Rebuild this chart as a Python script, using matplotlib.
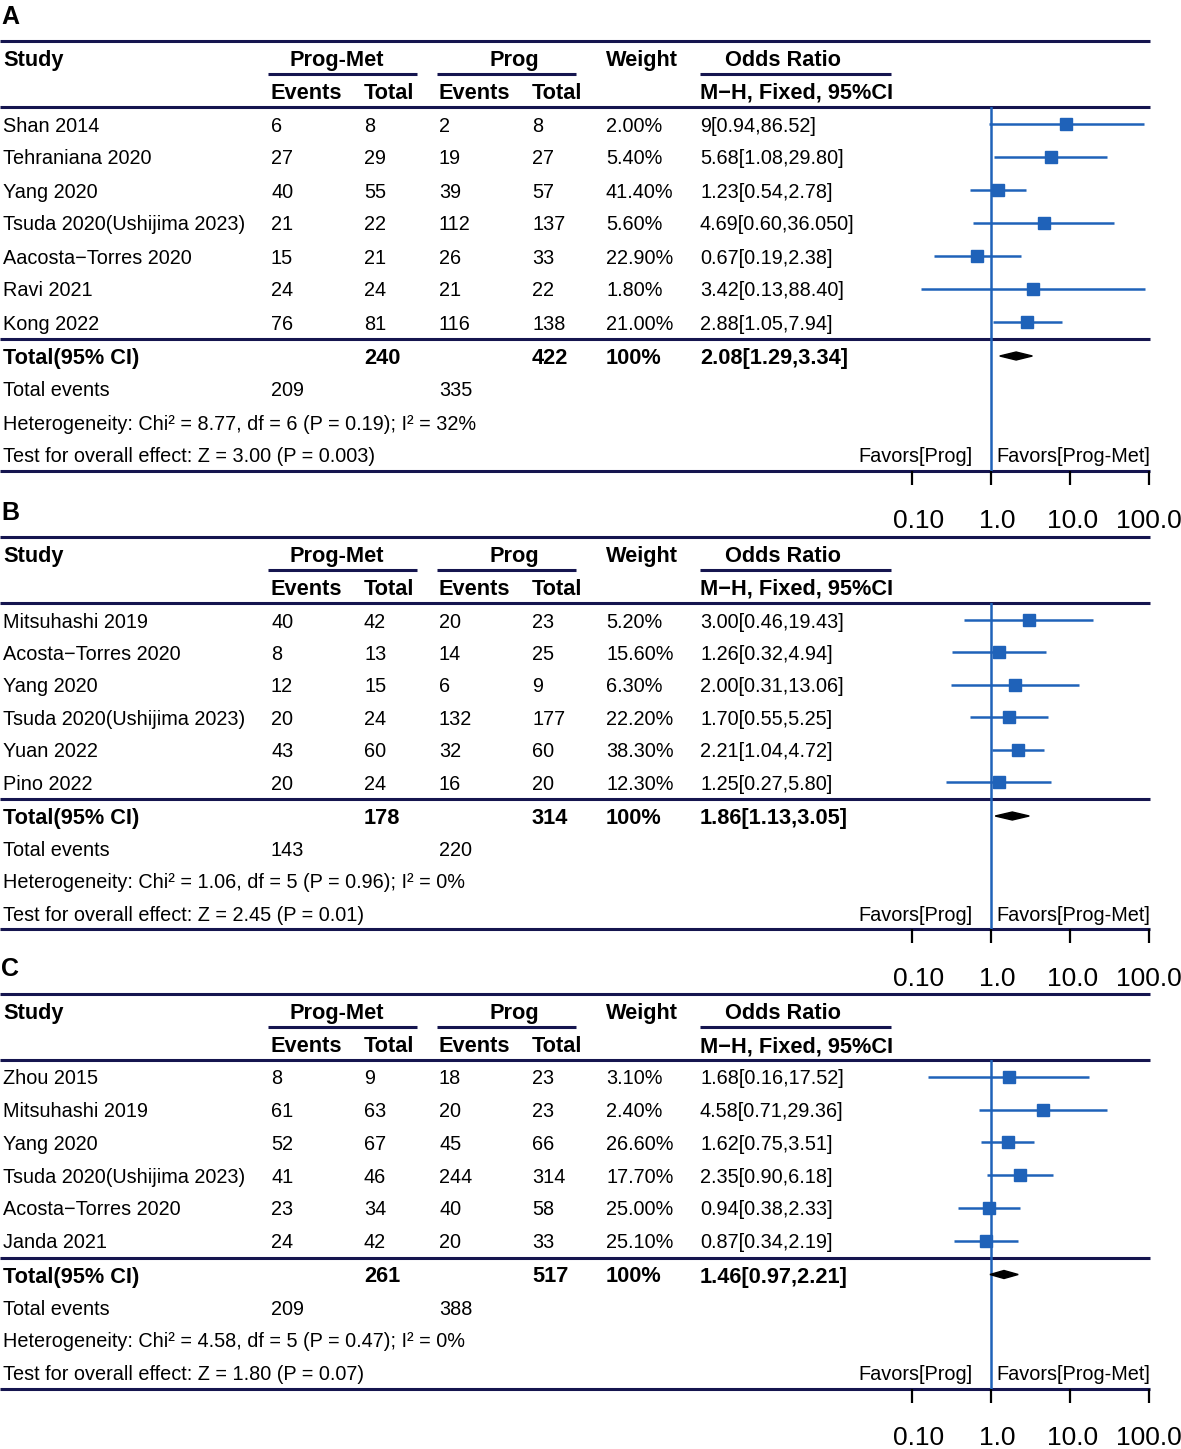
import numpy as np
import matplotlib.pyplot as plt
from matplotlib.transforms import ScaledTranslation

plt.rcParams['font.family'] = ['Liberation Sans', 'DejaVu Sans']

NAVY = '#15154f'
BLUE = '#1f62b9'
W, H = 1181, 1449

# ---- panel A
a_study = ['Shan 2014', 'Tehraniana 2020', 'Yang 2020', 'Tsuda 2020(Ushijima 2023)',
           'Aacosta\u2212Torres 2020', 'Ravi 2021', 'Kong 2022']
a_ev1 = [6, 27, 40, 21, 15, 24, 76]
a_n1 = [8, 29, 55, 22, 21, 24, 81]
a_ev2 = [2, 19, 39, 112, 26, 21, 116]
a_n2 = [8, 27, 57, 137, 33, 22, 138]
a_weight = ['2.00%', '5.40%', '41.40%', '5.60%', '22.90%', '1.80%', '21.00%']
a_or = [9, 5.68, 1.23, 4.69, 0.67, 3.42, 2.88]
a_lo = [0.94, 1.08, 0.54, 0.60, 0.19, 0.13, 1.05]
a_hi = [86.52, 29.80, 2.78, 36.050, 2.38, 88.40, 7.94]
a_ci = ['9[0.94,86.52]', '5.68[1.08,29.80]', '1.23[0.54,2.78]', '4.69[0.60,36.050]',
        '0.67[0.19,2.38]', '3.42[0.13,88.40]', '2.88[1.05,7.94]']
a_total = [240, 422]
a_events = [209, 335]
a_pooled = [2.08, 1.29, 3.34]
a_het = 'Heterogeneity: Chi\u00b2 = 8.77, df = 6 (P = 0.19); I\u00b2 = 32%'
a_test = 'Test for overall effect: Z = 3.00 (P = 0.003)'

# ---- panel B
b_study = ['Mitsuhashi 2019', 'Acosta\u2212Torres 2020', 'Yang 2020',
           'Tsuda 2020(Ushijima 2023)', 'Yuan 2022', 'Pino 2022']
b_ev1 = [40, 8, 12, 20, 43, 20]
b_n1 = [42, 13, 15, 24, 60, 24]
b_ev2 = [20, 14, 6, 132, 32, 16]
b_n2 = [23, 25, 9, 177, 60, 20]
b_weight = ['5.20%', '15.60%', '6.30%', '22.20%', '38.30%', '12.30%']
b_or = [3.00, 1.26, 2.00, 1.70, 2.21, 1.25]
b_lo = [0.46, 0.32, 0.31, 0.55, 1.04, 0.27]
b_hi = [19.43, 4.94, 13.06, 5.25, 4.72, 5.80]
b_ci = ['3.00[0.46,19.43]', '1.26[0.32,4.94]', '2.00[0.31,13.06]', '1.70[0.55,5.25]',
        '2.21[1.04,4.72]', '1.25[0.27,5.80]']
b_total = [178, 314]
b_events = [143, 220]
b_pooled = [1.86, 1.13, 3.05]
b_het = 'Heterogeneity: Chi\u00b2 = 1.06, df = 5 (P = 0.96); I\u00b2 = 0%'
b_test = 'Test for overall effect: Z = 2.45 (P = 0.01)'

# ---- panel C
c_study = ['Zhou 2015', 'Mitsuhashi 2019', 'Yang 2020', 'Tsuda 2020(Ushijima 2023)',
           'Acosta\u2212Torres 2020', 'Janda 2021']
c_ev1 = [8, 61, 52, 41, 23, 24]
c_n1 = [9, 63, 67, 46, 34, 42]
c_ev2 = [18, 20, 45, 244, 40, 20]
c_n2 = [23, 23, 66, 314, 58, 33]
c_weight = ['3.10%', '2.40%', '26.60%', '17.70%', '25.00%', '25.10%']
c_or = [1.68, 4.58, 1.62, 2.35, 0.94, 0.87]
c_lo = [0.16, 0.71, 0.75, 0.90, 0.38, 0.34]
c_hi = [17.52, 29.36, 3.51, 6.18, 2.33, 2.19]
c_ci = ['1.68[0.16,17.52]', '4.58[0.71,29.36]', '1.62[0.75,3.51]', '2.35[0.90,6.18]',
        '0.94[0.38,2.33]', '0.87[0.34,2.19]']
c_total = [261, 517]
c_events = [209, 388]
c_pooled = [1.46, 0.97, 2.21]
c_het = 'Heterogeneity: Chi\u00b2 = 4.58, df = 5 (P = 0.47); I\u00b2 = 0%'
c_test = 'Test for overall effect: Z = 1.80 (P = 0.07)'

ticks = [0.1, 1, 10, 100]
tick_labels = ['0.10', '1.0', '10.0', '100.0']

fig = plt.figure(figsize=(W / 100, H / 100), dpi=100)
bg = fig.add_axes([0, 0, 1, 1])
bg.set_xlim(0, W)
bg.set_ylim(H, 0)
bg.axis('off')

FS = 14.3
FSB = 15.7
X_STUDY, X_E1, X_N1, X_E2, X_N2, X_W, X_OR = 3, 271, 364, 439, 532, 606, 700
X0, X1 = 912, 1149


def txt(x, y, s, bold=False, ha='left', size=None):
    if size is None:
        size = FSB if bold else FS
    bg.text(x, y, s, ha=ha, va='center_baseline', fontsize=size,
            fontweight='bold' if bold else 'normal', color='black')


def hline(x0, x1, y):
    bg.plot([x0, x1], [y, y], color=NAVY, lw=2.2, solid_capstyle='butt')


def panel(top, s, letter, study, ev1, n1, ev2, n2, weight, orr, lo, hi, ci,
          total, events, pooled, het, test):
    n = len(study)
    txt(1, top - 27, letter, bold=True, size=18)
    hline(0, 1150, top)
    h1 = top + 17
    txt(X_STUDY, h1, 'Study', bold=True)
    txt(337, h1, 'Prog-Met', bold=True, ha='center')
    txt(514, h1, 'Prog', bold=True, ha='center')
    txt(X_W, h1, 'Weight', bold=True)
    txt(783, h1, 'Odds Ratio', bold=True, ha='center')
    ul = top + 33
    hline(268, 417, ul)
    hline(437, 576, ul)
    hline(700, 891, ul)
    h2 = top + 50
    for x, lab in [(X_E1, 'Events'), (X_N1, 'Total'), (X_E2, 'Events'), (X_N2, 'Total'),
                   (X_OR, 'M\u2212H, Fixed, 95%CI')]:
        txt(x, h2, lab, bold=True)
    l2 = top + 66
    hline(0, 1150, l2)
    ys = [top + 83 + i * s for i in range(n)]
    for i, y in enumerate(ys):
        txt(X_STUDY, y, study[i])
        txt(X_E1, y, str(ev1[i]))
        txt(X_N1, y, str(n1[i]))
        txt(X_E2, y, str(ev2[i]))
        txt(X_N2, y, str(n2[i]))
        txt(X_W, y, weight[i])
        txt(X_OR, y, ci[i])
    l3 = ys[-1] + 17
    hline(0, 1150, l3)
    yt = l3 + 17
    txt(X_STUDY, yt, 'Total(95% CI)', bold=True)
    txt(X_N1, yt, str(total[0]), bold=True)
    txt(X_N2, yt, str(total[1]), bold=True)
    txt(X_W, yt, '100%', bold=True)
    txt(X_OR, yt, '%.2f[%.2f,%.2f]' % tuple(pooled), bold=True)
    ye = yt + s
    txt(X_STUDY, ye, 'Total events')
    txt(X_E1, ye, str(events[0]))
    txt(X_E2, ye, str(events[1]))
    yh = ye + s
    txt(X_STUDY, yh, het)
    yz = yh + s
    txt(972, yz, 'Favors[Prog]', ha='right')
    txt(996, yz, 'Favors[Prog-Met]')
    txt(X_STUDY, yz, test)
    bot = yz + 16
    hline(0, 1150, bot)

    ax = fig.add_axes([X0 / W, 1 - bot / H, (X1 - X0) / W, (bot - l2) / H])
    ax.patch.set_alpha(0)
    ax.set_xscale('log')
    ax.set_xlim(0.1, 100)
    ax.set_ylim(bot, l2)
    for sp in ax.spines.values():
        sp.set_visible(False)
    ax.axvline(1, color=BLUE, lw=1.8, zorder=1)
    ax.hlines(ys, lo, hi, color=BLUE, lw=1.8, zorder=2, clip_on=False)
    ax.plot(orr, ys, 's', ms=8, color=BLUE, zorder=3, clip_on=False)
    p, plo, phi = pooled
    ax.fill([plo, p, phi, p], [yt, yt - 4, yt, yt + 4], color='black', zorder=3)
    ax.set_yticks([])
    ax.set_xticks(ticks)
    ax.set_xticklabels(tick_labels)
    ax.minorticks_off()
    ax.tick_params(axis='x', direction='out', length=10, width=1.6, color='black',
                   pad=17, labelsize=19)
    for lab, dx in zip(ax.get_xticklabels(), [7, 6, 3, 0]):
        lab.set_transform(lab.get_transform() +
                          ScaledTranslation(dx / 100, 0, fig.dpi_scale_trans))


panel(41, 33.0, 'A', a_study, a_ev1, a_n1, a_ev2, a_n2, a_weight, a_or, a_lo, a_hi, a_ci,
      a_total, a_events, a_pooled, a_het, a_test)
panel(537, 32.4, 'B', b_study, b_ev1, b_n1, b_ev2, b_n2, b_weight, b_or, b_lo, b_hi, b_ci,
      b_total, b_events, b_pooled, b_het, b_test)
panel(994, 32.7, 'C', c_study, c_ev1, c_n1, c_ev2, c_n2, c_weight, c_or, c_lo, c_hi, c_ci,
      c_total, c_events, c_pooled, c_het, c_test)

fig.savefig('out.png', dpi=100)
